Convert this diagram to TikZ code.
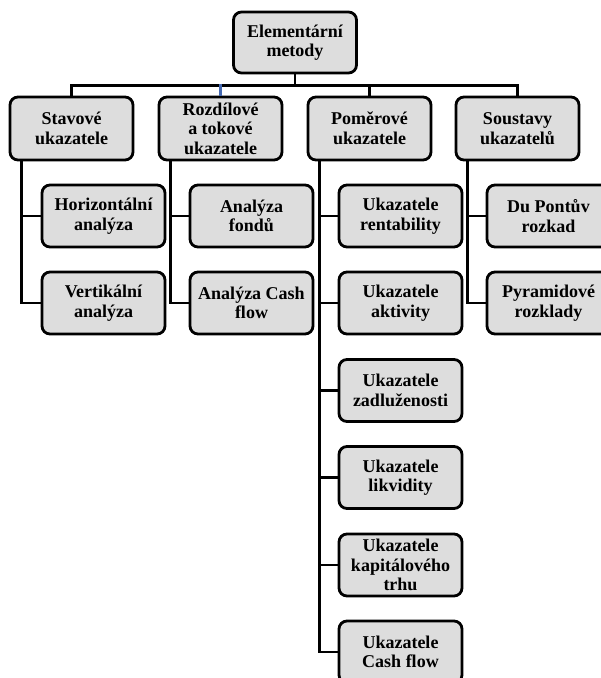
\documentclass[tikz,border=0pt]{standalone}
\usepackage{fontspec}
\setmainfont{Liberation Serif}
\begin{document}
\begin{tikzpicture}[x=1pt,y=-1pt,
  box/.style={draw=black, line width=2.8pt, fill={rgb,255:red,221;green,221;blue,221},
    rounded corners=8pt, minimum width=123pt, minimum height=62pt, inner sep=0pt,
    align=center, font=\bfseries\fontsize{18}{19.5}\selectfont},
  conn/.style={draw=black, line width=2.7pt},
  blueconn/.style={draw={rgb,255:red,68;green,104;blue,176}, line width=2.7pt}]
\clip (0,0) rectangle (601,678);
\fill[white] (0,0) rectangle (601,678);
% nodes
\node[box, minimum height=61pt] (top) at (295,42.5) {Elementární\\metody};
\node[box, minimum height=63pt] (p1) at (71.5,128.5) {Stavové\\ukazatele};
\node[box, minimum height=63pt] (p2) at (220.5,128.5) {Rozdílové\\a tokové\\ukazatele};
\node[box, minimum height=63pt] (p3) at (369.5,128.5) {Poměrové\\ukazatele};
\node[box, minimum height=63pt] (p4) at (517.5,128.5) {Soustavy\\ukazatelů};
\node[box] (c11) at (103.5,216) {Horizontální\\analýza};
\node[box] (c12) at (103.5,303) {Vertikální\\analýza};
\node[box] (c21) at (251.5,216) {Analýza\\fondů};
\node[box] (c22) at (251.5,303) {Analýza Cash\\flow};
\node[box] (c31) at (400.5,216) {Ukazatele\\rentability};
\node[box] (c32) at (400.5,303) {Ukazatele\\aktivity};
\node[box] (c33) at (400.5,390.5) {Ukazatele\\zadluženosti};
\node[box] (c34) at (400.5,477.5) {Ukazatele\\likvidity};
\node[box] (c35) at (400.5,565) {Ukazatele\\kapitálového\\trhu};
\node[box] (c36) at (400.5,652) {Ukazatele\\Cash flow};
\node[box] (c41) at (548.5,216) {Du Pontův\\rozkad};
\node[box] (c42) at (548.5,303) {Pyramidové\\rozklady};
% bus
\coordinate (bus) at (0,85.5);
\draw[conn] (top.south) -- (top.south |- bus);
\draw[conn] ([xshift=-1.35pt]p1.north |- bus) -- ([xshift=1.35pt]p4.north |- bus);
\draw[conn] (p1.north |- bus) -- (p1.north);
\draw[blueconn] ([yshift=1.35pt]p2.north |- bus) -- (p2.north);
\draw[conn] (p3.north |- bus) -- (p3.north);
\draw[conn] (p4.north |- bus) -- (p4.north);
% column stems
\coordinate (s1) at ([xshift=13pt]p1.south west);
\coordinate (s2) at ([xshift=13pt]p2.south west);
\coordinate (s3) at ([xshift=13pt]p3.south west);
\coordinate (s4) at ([xshift=13pt]p4.south west);
\draw[conn] (s1) |- (c11.west);
\draw[conn] (s1) |- (c12.west);
\draw[conn] (s2) |- (c21.west);
\draw[conn] (s2) |- (c22.west);
\draw[conn] (s3) |- (c31.west);
\draw[conn] (s3) |- (c32.west);
\draw[conn] (s3) |- (c33.west);
\draw[conn] (s3) |- (c34.west);
\draw[conn] (s3) |- (c35.west);
\draw[conn] (s3) |- (c36.west);
\draw[conn] (s4) |- (c41.west);
\draw[conn] (s4) |- (c42.west);
\end{tikzpicture}
\end{document}
